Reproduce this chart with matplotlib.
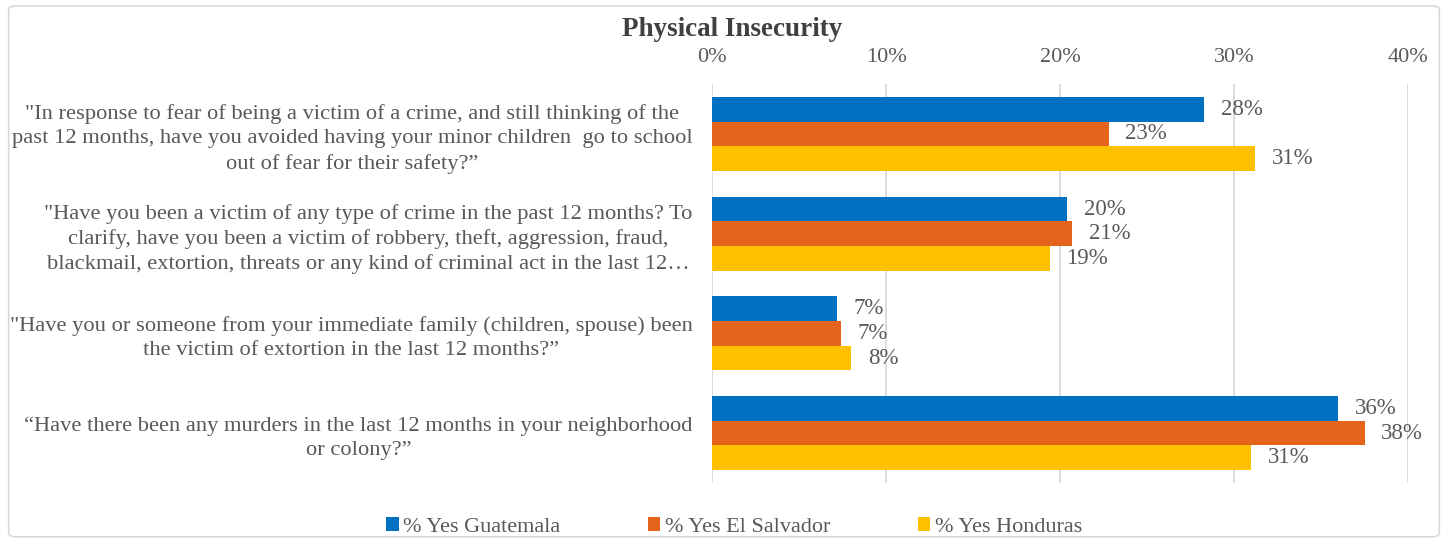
import matplotlib.pyplot as plt
import numpy as np
from matplotlib.patches import FancyBboxPatch

# survey questions (top to bottom)
questions = [
    '"In response to fear of being a victim of a crime, and still thinking of the\n'
    'past 12 months, have you avoided having your minor children  go to school\n'
    'out of fear for their safety?\u201d',
    '"Have you been a victim of any type of crime in the past 12 months? To\n'
    'clarify, have you been a victim of robbery, theft, aggression, fraud,\n'
    'blackmail, extortion, threats or any kind of criminal act in the last 12\u2026',
    '"Have you or someone from your immediate family (children, spouse) been\n'
    'the victim of extortion in the last 12 months?\u201d',
    '\u201cHave there been any murders in the last 12 months in your neighborhood\n'
    'or colony?\u201d',
]

# share answering yes, in percent
guatemala = [28.3, 20.4, 7.2, 36.0]
el_salvador = [22.8, 20.7, 7.4, 37.5]
honduras = [31.2, 19.4, 8.0, 31.0]

series = ['% Yes Guatemala', '% Yes El Salvador', '% Yes Honduras']
colors = ['#0070C0', '#E5641C', '#FFC000']
xticks = [0, 10, 20, 30, 40]

txt = '#595959'
plt.rcParams['font.family'] = ['Liberation Serif', 'DejaVu Serif']

fig = plt.figure(figsize=(14.48, 5.39), dpi=100)
ax = fig.add_axes([0.4917, 0.104, 0.4807, 0.740])

y = np.arange(len(questions))
h = 0.247
for i, (vals, name, c) in enumerate(zip([guatemala, el_salvador, honduras], series, colors)):
    bars = ax.barh(y + (i - 1) * h, vals, height=h, color=c, label=name, zorder=3)
    ax.bar_label(bars, labels=[f'{v:.0f}%' for v in vals], padding=12,
                 fontsize=16.5, color=txt)

ax.set_ylim(len(questions) - 0.5, -0.5)
ax.set_xlim(0, 40)
ax.set_yticks(y)
ax.set_yticklabels(questions, fontsize=16.2, color=txt)
for lab in ax.get_yticklabels():
    lab.set_multialignment('center')
    lab.set_linespacing(1.35)
ax.tick_params(axis='y', length=0, pad=14)

ax.xaxis.tick_top()
ax.set_xticks(xticks)
ax.set_xticklabels([f'{t}%' for t in xticks], fontsize=16, color=txt)
ax.tick_params(axis='x', length=0, pad=12)
ax.grid(axis='x', color='#D9D9D9', linewidth=1.3, zorder=0)
for s in ax.spines.values():
    s.set_visible(False)

fig.text(0.5055, 0.946, 'Physical Insecurity', ha='center', va='center',
         fontsize=19.5, fontweight='bold', color='#404040')

fig.legend(loc='center', bbox_to_anchor=(0.507, 0.022), ncol=3, frameon=False,
           fontsize=16, labelcolor=txt, handlelength=0.55, handleheight=0.55,
           handletextpad=0.2, columnspacing=3.95)

# outer chart frame
frame = FancyBboxPatch((0.006, 0.004), 0.988, 0.985, boxstyle='round,pad=0,rounding_size=0.006',
                       transform=fig.transFigure, facecolor='none', edgecolor='#D9D9D9',
                       linewidth=1.2)
fig.patches.append(frame)

fig.savefig('out.png', dpi=100)
